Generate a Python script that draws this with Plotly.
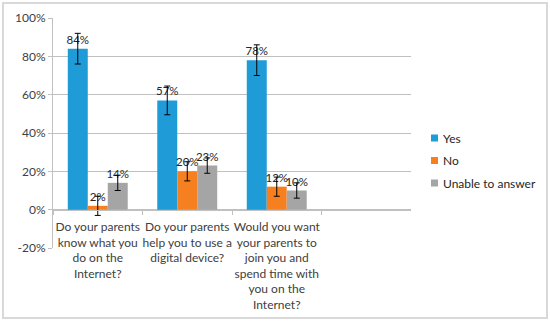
import plotly.graph_objects as go

categories = [
    "Do your parents<br>know what you<br>do on the<br>Internet?",
    "Do your parents<br>help you to use a<br>digital device?",
    "Would you want<br>your parents to<br>join you and<br>spend time with<br>you on the<br>Internet?",
]
series_names = ["Yes", "No", "Unable to answer"]
yes_vals = [84, 57, 78]
no_vals = [2, 20, 12]
unable_vals = [14, 23, 10]
yes_err = [8, 7.5, 8]
no_err = [5, 5, 5]
unable_err = [4, 4, 4]
y_ticks = [-20, 0, 20, 40, 60, 80, 100]
y_tick_labels = ["-20%", "0%", "20%", "40%", "60%", "80%", "100%"]

colors = ["#1f9bd8", "#f6801f", "#a5a5a5"]
FONT = "Lato, 'Open Sans', sans-serif"
TXT = "#404040"

fig = go.Figure()
for name, vals, errs, col in zip(series_names, [yes_vals, no_vals, unable_vals],
                                 [yes_err, no_err, unable_err], colors):
    fig.add_trace(go.Bar(
        name=name, x=categories, y=vals, showlegend=False,
        marker=dict(color=col, line=dict(width=0)),
        error_y=dict(type="data", array=errs, visible=True, color="#000000",
                     thickness=1, width=3),
        text=[f"{v}%" for v in vals], textposition="outside",
        constraintext="none",
        textfont=dict(family=FONT, size=11.5, color="#262626"),
        cliponaxis=False,
    ))

L, R, T, B = 53, 139, 18, 75
W, H = 550, 323
pw, ph = W - L - R, H - T - B

def px(x):
    return (x - L) / pw

def py(y):
    return (H - B - y) / ph

shapes = [dict(type="rect", xref="paper", yref="paper",
               x0=px(3), x1=px(547), y0=py(318), y1=py(3),
               line=dict(color="#d9d9d9", width=2), fillcolor="rgba(0,0,0,0)",
               layer="below")]
annotations = []
leg_y = [138, 160.5, 183]
for name, col, yy in zip(series_names, colors, leg_y):
    shapes.append(dict(type="rect", xref="paper", yref="paper",
                       x0=px(431), x1=px(438), y0=py(yy + 3.5), y1=py(yy - 3.5),
                       line=dict(width=0), fillcolor=col))
    annotations.append(dict(xref="paper", yref="paper", x=px(441), y=py(yy),
                            xanchor="left", yanchor="middle", showarrow=False,
                            text=name, font=dict(family=FONT, size=12, color="#262626")))

fig.update_layout(
    width=W, height=H,
    margin=dict(l=L, r=R, t=T, b=B, autoexpand=False),
    paper_bgcolor="white", plot_bgcolor="white",
    barmode="group", bargap=0.33, bargroupgap=0,
    font=dict(family=FONT, size=12, color=TXT),
    showlegend=False,
    yaxis=dict(range=[-20, 100], tickvals=y_ticks, ticktext=y_tick_labels,
               showgrid=True, gridcolor="#c0c0c0", gridwidth=1, automargin=False,
               zeroline=False, showline=True, linecolor="#c0c0c0", linewidth=1,
               ticks="outside", ticklen=4, tickcolor="#c0c0c0",
               tickfont=dict(family=FONT, size=12, color=TXT)),
    xaxis=dict(range=[-0.5, 3.5], type="category", anchor="free", automargin=False,
               position=20 / 120, showline=True, linecolor="#c0c0c0", linewidth=1,
               ticks="outside", tickson="boundaries", ticklen=4, tickcolor="#c0c0c0",
               showgrid=False, tickangle=0, ticklabelstandoff=6,
               tickfont=dict(family=FONT, size=12, color=TXT)),
    shapes=shapes,
    annotations=annotations,
)

fig.write_html("out.html", config={"displayModeBar": False},
               post_script="document.body.style.margin='0';")
